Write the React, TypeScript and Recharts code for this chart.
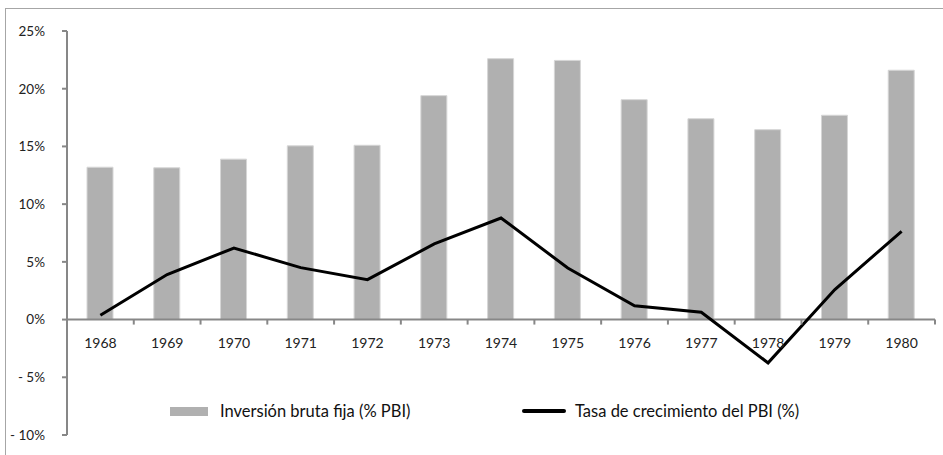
import {
  ComposedChart,
  Bar,
  Line,
  XAxis,
  YAxis,
  ReferenceLine,
} from "recharts";

// Perú 1968-1980
const years = ["1968", "1969", "1970", "1971", "1972", "1973", "1974", "1975", "1976", "1977", "1978", "1979", "1980"];
const inversion = [13.2, 13.15, 13.9, 15.05, 15.1, 19.4, 22.6, 22.45, 19.05, 17.4, 16.45, 17.7, 21.6];
const crecimiento = [0.37, 3.9, 6.2, 4.5, 3.46, 6.55, 8.8, 4.47, 1.2, 0.63, -3.75, 2.6, 7.65];
const yTicks = [-10, -5, 0, 5, 10, 15, 20, 25];

const data = years.map((year, i) => ({
  year,
  inversion: inversion[i],
  crecimiento: crecimiento[i],
}));

const W = 943;
const H = 455;
const PLOT_TOP = 31;
const PLOT_LEFT = 67;
const PLOT_RIGHT = 935;
const PLOT_BOTTOM = 435;
const Y_MIN = -10;
const Y_MAX = 25;
const FONT = "Lato, 'Open Sans', sans-serif";
const AXIS = "#878787";

const plotH = PLOT_BOTTOM - PLOT_TOP;
const zeroY = PLOT_TOP + ((Y_MAX - 0) / (Y_MAX - Y_MIN)) * plotH;
const band = (PLOT_RIGHT - PLOT_LEFT) / years.length;

function pct(v: number) {
  return v < 0 ? `- ${Math.abs(v)}%` : `${v}%`;
}

// x labels sit under the 0% line, tick marks go between categories
function YearTick(props: any) {
  const { x, payload, index } = props;
  return (
    <g>
      {index === 0 && (
        <line x1={x - band / 2} x2={x - band / 2} y1={zeroY} y2={zeroY + 5} stroke={AXIS} strokeWidth={2} />
      )}
      <line x1={x + band / 2} x2={x + band / 2} y1={zeroY} y2={zeroY + 5} stroke={AXIS} strokeWidth={2} />
      <text x={x} y={zeroY + 28} textAnchor="middle" fontSize={14} fontFamily={FONT} fill="#222">
        {payload.value}
      </text>
    </g>
  );
}

export default function App() {
  return (
    <div style={{ position: "absolute", left: 0, top: 0, width: W, height: H, overflow: "hidden", background: "#fff" }}>
      <div
        style={{
          position: "absolute",
          left: 5,
          top: 8,
          width: W + 20,
          height: H + 20,
          border: "1px solid #a6a6a6",
        }}
      />
      <ComposedChart
        width={W}
        height={H}
        data={data}
        margin={{ top: PLOT_TOP, right: W - PLOT_RIGHT, bottom: H - PLOT_BOTTOM - 1, left: 0 }}
        barCategoryGap={0}
        style={{ position: "absolute", left: 0, top: 0 }}
      >
        <XAxis
          dataKey="year"
          height={1}
          axisLine={false}
          tickLine={false}
          tick={<YearTick />}
          interval={0}
        />
        <YAxis
          width={PLOT_LEFT}
          domain={[Y_MIN, Y_MAX]}
          ticks={yTicks}
          interval={0}
          tickFormatter={pct}
          axisLine={{ stroke: AXIS, strokeWidth: 2 }}
          tickLine={{ stroke: AXIS, strokeWidth: 2 }}
          tickSize={5}
          tickMargin={17}
          tick={{ fontSize: 13.5, fontFamily: FONT, fill: "#222" }}
        />
        <Bar
          dataKey="inversion"
          fill="#b0b0b0"
          stroke="#d6d6d6"
          strokeWidth={1}
          barSize={26}
          isAnimationActive={false}
        />
        <ReferenceLine y={0} stroke={AXIS} strokeWidth={2} />
        <Line
          type="linear"
          dataKey="crecimiento"
          stroke="#000"
          strokeWidth={3}
          dot={false}
          isAnimationActive={false}
        />
      </ComposedChart>
      <div
        style={{
          position: "absolute",
          top: 401,
          left: 170,
          display: "flex",
          alignItems: "center",
          fontFamily: FONT,
          fontSize: 16.5,
          color: "#111",
        }}
      >
        <span style={{ display: "inline-block", width: 38, height: 9, background: "#b0b0b0", marginRight: 12 }} />
        <span style={{ width: 302 }}>Inversión bruta fija (% PBI)</span>
        <span style={{ display: "inline-block", width: 44, height: 4, background: "#000", borderRadius: 2, marginRight: 9 }} />
        <span>Tasa de crecimiento del PBI (%)</span>
      </div>
    </div>
  );
}
